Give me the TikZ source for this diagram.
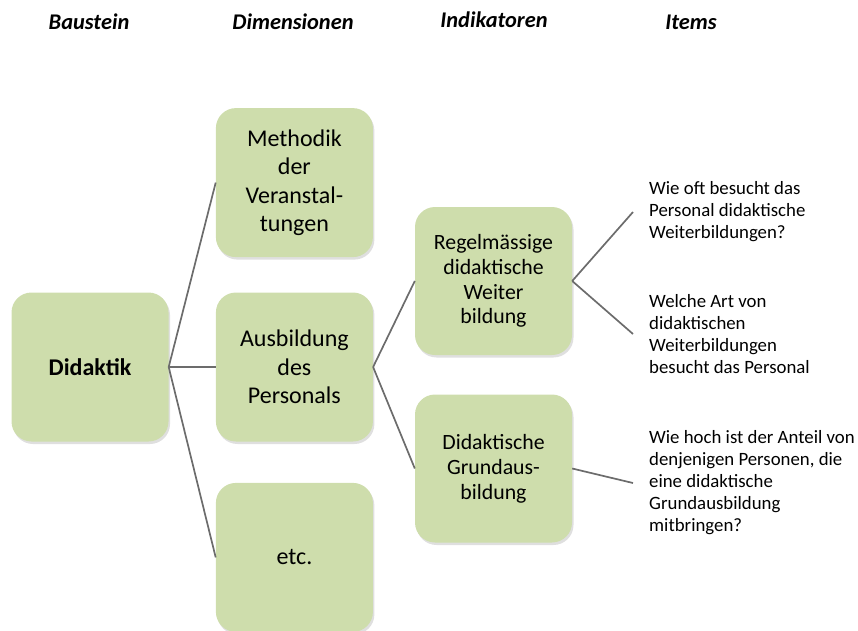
\documentclass[tikz,border=0pt]{standalone}
\usepackage{fontspec}
\setmainfont{Carlito}
\usetikzlibrary{positioning,shadows}
\definecolor{boxgreen}{RGB}{206,221,172}
\definecolor{linegray}{RGB}{108,108,108}

\begin{document}
\begin{tikzpicture}[
    x=1pt, y=-1pt,
    node distance=35pt and 47pt,
    box/.style={fill=boxgreen, rounded corners=20pt, minimum width=157pt, minimum height=149pt, align=center, inner sep=4pt, drop shadow={shadow xshift=1.5pt, shadow yshift=-2.5pt, opacity=0.25}},
    dim/.style={box, font=\fontsize{24}{28.5}\selectfont},
    ind/.style={box, minimum height=148pt, font=\fontsize{21.8}{24.8}\selectfont},
    item/.style={anchor=west, inner xsep=16pt, align=left, font=\fontsize{18.8}{22}\selectfont},
    head/.style={font=\fontsize{22.4}{26}\selectfont\bfseries\itshape},
    link/.style={draw=linegray, line width=1.7pt},
]
\useasboundingbox (0,0) rectangle (858,630);

% Column headers
\node[head] (hbau) at (89,22) {Baustein};
\node[head] (hdim) at (293,22) {Dimensionen};
\node[head] (hind) at (494,20) {Indikatoren};
\node[head] (hitem) at (691,22) {Items};

% Baustein
\node[dim, font=\fontsize{24}{28.5}\selectfont\bfseries] (didaktik) at (90,367) {Didaktik};

% Dimensionen
\node[dim, right=of didaktik] (ausb) {Ausbildung\\des\\Personals};
\node[dim, above=of ausb] (meth) {Methodik\\der\\Veranstal-\\tungen};
\node[dim, below=41pt of ausb] (etc) {etc.};

% Indikatoren
\node[ind] (regel) at (493.5,281) {Regelmässige\\didaktische\\Weiter\\bildung};
\node[ind] (grund) at (493.5,468.5) {Didaktische\\Grundaus-\\bildung};

% Items
\node[item] (it1) at (633,212) {Wie oft besucht das\\Personal didaktische\\Weiterbildungen?};
\node[item] (it2) at (633,334) {Welche Art von\\didaktischen\\Weiterbildungen\\besucht das Personal};
\node[item] (it3) at (633,483) {Wie hoch ist der Anteil von\\denjenigen Personen, die\\eine didaktische\\Grundausbildung\\mitbringen?};

% Links
\draw[link] (didaktik.east) -- (meth.west);
\draw[link] (didaktik.east) -- (ausb.west);
\draw[link] (didaktik.east) -- (etc.west);
\draw[link] (ausb.east) -- (regel.west);
\draw[link] (ausb.east) -- (grund.west);
\draw[link] (regel.east) -- (it1.west);
\draw[link] (regel.east) -- (it2.west);
\draw[link] (grund.east) -- (it3.west);
\end{tikzpicture}
\end{document}
